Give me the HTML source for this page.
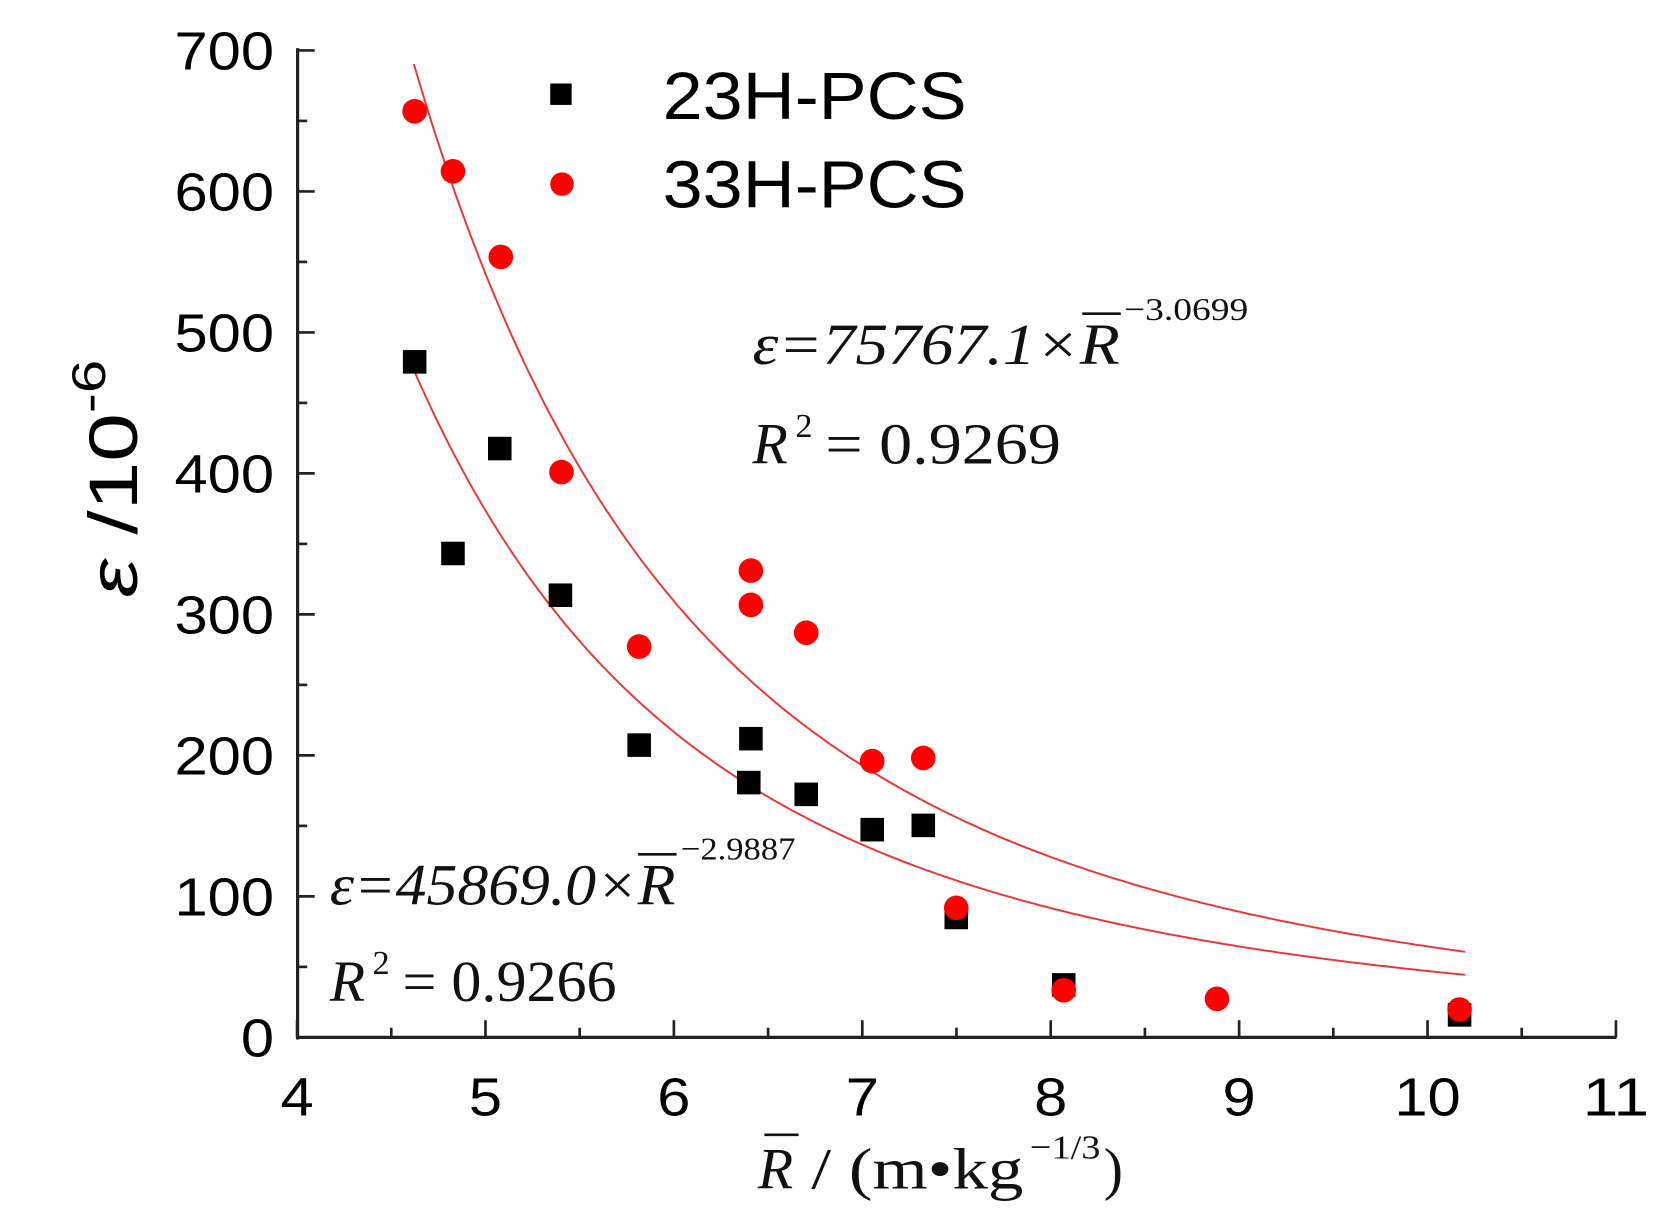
<!DOCTYPE html>
<html><head><meta charset="utf-8"><style>
html,body{margin:0;padding:0;background:#fff;}
svg{display:block;}
</style></head><body>
<svg id="s" width="1670" height="1229" viewBox="0 0 1560 1148" preserveAspectRatio="none" xmlns="http://www.w3.org/2000/svg">
<rect width="1560" height="1148" fill="#fff"/>
<g id="ax" stroke="#222" stroke-width="3" fill="none">
<line x1="278" y1="45" x2="278" y2="971"/>
<line x1="276.5" y1="969" x2="1510" y2="969"/>
</g>
<g id="ticks" stroke="#222" stroke-width="2.5"></g>
<g font-family="Liberation Sans, sans-serif" font-size="50" fill="#000" text-anchor="end" id="yl"></g>
<g font-family="Liberation Sans, sans-serif" font-size="50" fill="#000" text-anchor="middle" id="xl"></g>
<path id="c1" fill="none" stroke="#e33" stroke-width="1.8"/>
<path id="c2" fill="none" stroke="#e33" stroke-width="1.8"/>
<g id="pts"></g>
<rect x="514" y="78" width="20" height="20" fill="#000"/>
<circle cx="525" cy="172" r="11" fill="#f00"/>
<text x="619" y="111" font-family="Liberation Sans, sans-serif" font-size="62" textLength="284" lengthAdjust="spacingAndGlyphs">23H-PCS</text>
<text x="619" y="194" font-family="Liberation Sans, sans-serif" font-size="62" textLength="284" lengthAdjust="spacingAndGlyphs">33H-PCS</text>
<g font-family="Liberation Serif, serif" font-size="54" fill="#111">
<text x="703" y="340" font-style="italic" textLength="343" lengthAdjust="spacingAndGlyphs">ε=75767.1×R</text>
<line x1="1011" y1="293" x2="1047" y2="293" stroke="#111" stroke-width="2.5"/>
<text x="1050" y="299" font-size="30" textLength="116" lengthAdjust="spacingAndGlyphs">−3.0699</text>
<text x="703" y="433" font-style="italic">R</text>
<text x="743" y="408" font-size="32">2</text>
<text x="771" y="433" textLength="220" lengthAdjust="spacingAndGlyphs">= 0.9269</text>
<text x="308" y="845" font-style="italic" textLength="323" lengthAdjust="spacingAndGlyphs">ε=45869.0×R</text>
<line x1="596" y1="798" x2="632" y2="798" stroke="#111" stroke-width="2.5"/>
<text x="636" y="803" font-size="30" textLength="107" lengthAdjust="spacingAndGlyphs">−2.9887</text>
<text x="308" y="935" font-style="italic">R</text>
<text x="348" y="910" font-size="32">2</text>
<text x="376" y="935" textLength="200" lengthAdjust="spacingAndGlyphs">= 0.9266</text>
<text x="708" y="1110" font-style="italic" font-size="54">R</text>
<line x1="714" y1="1060" x2="746" y2="1060" stroke="#111" stroke-width="2.5"/>
<text x="758" y="1110" font-size="54" textLength="198" lengthAdjust="spacingAndGlyphs">/ (m•kg</text>
<text x="962" y="1082" font-size="32" textLength="66" lengthAdjust="spacingAndGlyphs">−1/3</text>
<text x="1031" y="1110" font-size="54">)</text>
</g>
<text transform="translate(128,447) rotate(-90)" text-anchor="middle" font-family="Liberation Sans, sans-serif" font-size="64" textLength="222" lengthAdjust="spacingAndGlyphs"><tspan font-style="italic">ε</tspan> /10<tspan font-size="44" dy="-30">-6</tspan></text>
</svg>
<script>
var NS="http://www.w3.org/2000/svg";
function X(v){return 277.5+(v-4)*176;}
function Y(v){return 969-v*1.317;}
var tk=document.getElementById('ticks'),yl=document.getElementById('yl'),xl=document.getElementById('xl');
function el(p,t,a,txt){var e=document.createElementNS(NS,t);for(var k in a)e.setAttribute(k,a[k]);if(txt)e.textContent=txt;p.appendChild(e);return e;}
for(var v=0;v<=700;v+=50){var y=Y(v),L=v%100==0?16:9;el(tk,'line',{x1:278,y1:y,x2:278+L,y2:y});if(v%100==0){var t=el(yl,'text',{x:256,y:y+18},''+v);t.setAttribute('textLength',(''+v).length*31);t.setAttribute('lengthAdjust','spacingAndGlyphs');}}
for(var v=4;v<=11;v+=0.5){var x=X(v),L=(v%1==0)?16:9;el(tk,'line',{x1:x,y1:969,x2:x,y2:969-L});if(v%1==0){var t=el(xl,'text',{x:x,y:1042},''+v);t.setAttribute('textLength',(''+v).length*31);t.setAttribute('lengthAdjust','spacingAndGlyphs');}}
function curve(id,a,b){var d='';for(var x=4.62;x<=10.2001;x+=0.02){d+=(d?'L':'M')+X(x).toFixed(1)+','+Y(a*Math.pow(x,b)).toFixed(1);}document.getElementById(id).setAttribute('d',d);}
curve('c1',75767.1,-3.0699);curve('c2',45869.0,-2.9887);
var pts=document.getElementById('pts');
function fx(x){return 278+(x-278)*0.994;}
var sq=[[388,338],[424,517],[468,419],[525,556],[599,696],[704,690],[702,731],[756,742],[818,775],[866,771],[897,857],[998,920],[1370,948]];
var ci=[[388,104],[424,160],[469,240],[526,441],[599,604],[704,533],[704,565],[756,591],[818,711],[866,708],[897,848],[998,925],[1142,933],[1370,943]];
sq.forEach(function(p){el(pts,'rect',{x:fx(p[0])-11,y:p[1]-11,width:22,height:22,fill:'#000'});});
ci.forEach(function(p){el(pts,'circle',{cx:fx(p[0]),cy:p[1],r:11.5,fill:'#f00'});});
</script>
</body></html>
